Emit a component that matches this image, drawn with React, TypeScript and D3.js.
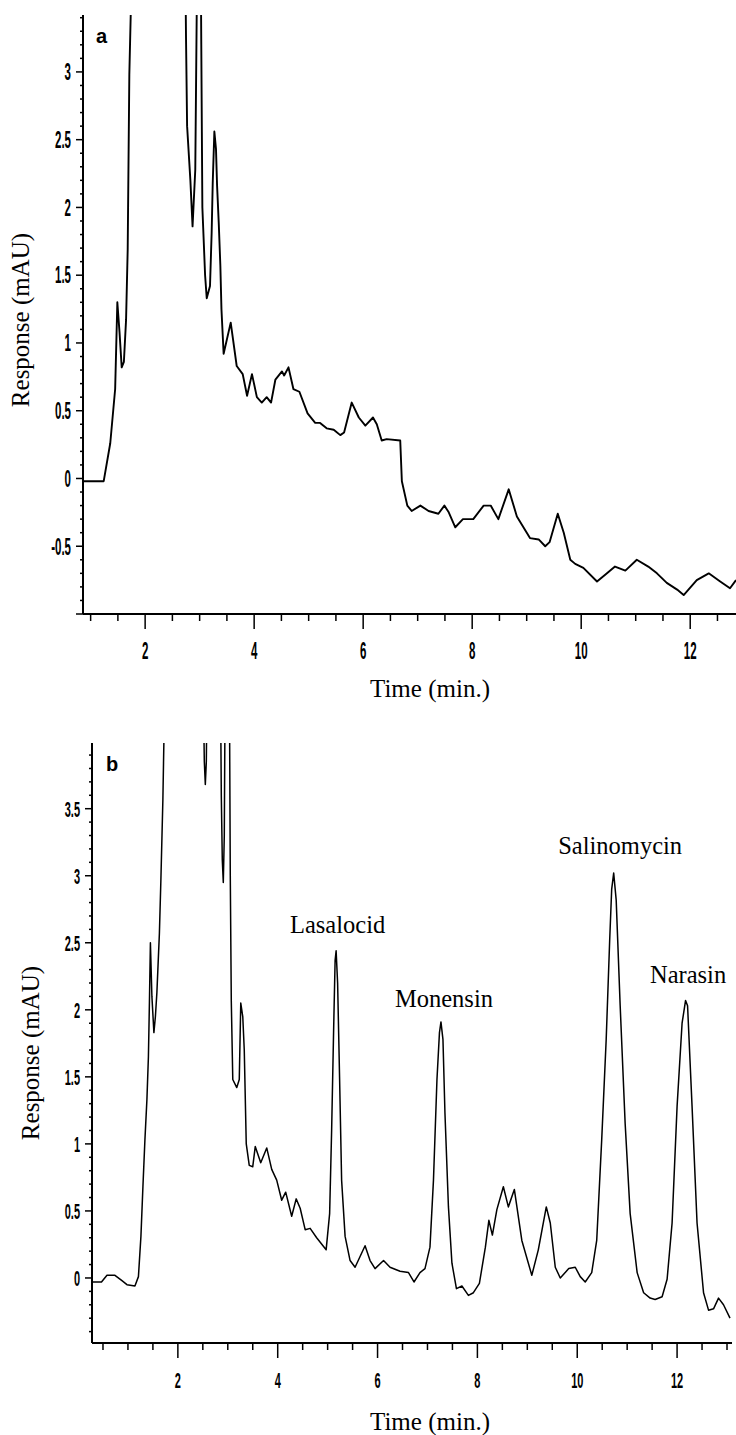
import React from "react";
import * as d3 from "d3";

// chromatogram a (time in min, response in mAU); values above the axis top are off-scale
const chromA: [number, number][] = [
  [0.86, -0.02], [1.24, -0.02], [1.36, 0.26], [1.45, 0.66], [1.49, 1.3], [1.53, 1.08], [1.57, 0.82],
  [1.61, 0.86], [1.65, 1.17], [1.68, 1.69], [1.71, 2.98], [1.74, 3.5], [1.78, 4.5], [2.72, 4.5],
  [2.75, 3.25], [2.77, 2.6], [2.83, 2.2], [2.87, 1.86], [2.92, 2.28], [2.95, 3.6], [2.98, 4.5],
  [3.01, 4.5], [3.03, 3.2], [3.05, 2.0], [3.1, 1.5], [3.13, 1.33], [3.19, 1.42], [3.22, 1.81],
  [3.24, 2.18], [3.27, 2.56], [3.3, 2.43], [3.32, 2.16], [3.35, 1.89], [3.38, 1.57], [3.4, 1.25],
  [3.44, 0.92], [3.57, 1.15], [3.68, 0.83], [3.79, 0.77], [3.87, 0.61], [3.96, 0.77], [4.05, 0.6],
  [4.14, 0.56], [4.23, 0.6], [4.31, 0.56], [4.39, 0.73], [4.51, 0.79], [4.55, 0.76], [4.63, 0.82],
  [4.72, 0.66], [4.83, 0.64], [4.98, 0.48], [5.12, 0.41], [5.21, 0.41], [5.33, 0.37], [5.46, 0.36],
  [5.58, 0.32], [5.65, 0.34], [5.79, 0.56], [5.92, 0.45], [6.04, 0.39], [6.18, 0.45], [6.25, 0.4],
  [6.34, 0.28], [6.43, 0.29], [6.68, 0.28], [6.71, -0.02], [6.81, -0.2], [6.89, -0.24], [7.05, -0.2],
  [7.2, -0.24], [7.38, -0.26], [7.49, -0.2], [7.57, -0.25], [7.69, -0.36], [7.83, -0.3], [8.02, -0.3],
  [8.21, -0.2], [8.34, -0.2], [8.48, -0.3], [8.67, -0.08], [8.82, -0.28], [9.06, -0.44], [9.22, -0.45],
  [9.34, -0.5], [9.42, -0.47], [9.57, -0.26], [9.68, -0.4], [9.8, -0.6], [9.89, -0.63], [10.04, -0.66],
  [10.29, -0.76], [10.44, -0.71], [10.62, -0.65], [10.81, -0.68], [11.02, -0.6], [11.23, -0.65],
  [11.39, -0.7], [11.57, -0.77], [11.76, -0.82], [11.88, -0.86], [12.12, -0.75], [12.34, -0.7],
  [12.55, -0.76], [12.73, -0.81], [12.84, -0.75],
];

// chromatogram b
const chromB: [number, number][] = [
  [0.28, -0.03], [0.47, -0.03], [0.58, 0.02], [0.74, 0.02], [0.88, -0.02], [0.98, -0.05], [1.14, -0.06],
  [1.21, 0.01], [1.26, 0.31], [1.3, 0.68], [1.34, 1.03], [1.38, 1.33], [1.41, 1.65], [1.43, 2.05],
  [1.45, 2.5], [1.48, 2.1], [1.52, 1.83], [1.55, 1.95], [1.58, 2.13], [1.63, 2.57], [1.66, 2.97],
  [1.7, 3.57], [1.72, 4.0], [1.76, 4.6], [2.5, 4.6], [2.53, 3.85], [2.55, 3.68], [2.57, 3.85],
  [2.59, 4.6], [2.85, 4.6], [2.87, 3.6], [2.89, 3.12], [2.91, 2.95], [2.93, 3.3], [2.95, 4.6],
  [3.03, 4.6], [3.05, 3.0], [3.07, 2.07], [3.1, 1.48], [3.18, 1.42], [3.23, 1.48], [3.26, 2.05],
  [3.3, 1.95], [3.33, 1.7], [3.37, 1.0], [3.43, 0.84], [3.5, 0.83], [3.55, 0.98], [3.66, 0.86],
  [3.78, 0.97], [3.88, 0.81], [3.98, 0.73], [4.08, 0.58], [4.16, 0.64], [4.28, 0.46], [4.37, 0.59],
  [4.45, 0.52], [4.55, 0.36], [4.65, 0.37], [4.78, 0.3], [4.97, 0.21], [5.04, 0.48], [5.08, 1.1],
  [5.12, 1.85], [5.15, 2.37], [5.17, 2.44], [5.2, 2.2], [5.24, 1.48], [5.28, 0.73], [5.35, 0.31],
  [5.45, 0.13], [5.55, 0.08], [5.65, 0.16], [5.75, 0.24], [5.85, 0.13], [5.95, 0.07], [6.12, 0.13],
  [6.25, 0.08], [6.45, 0.05], [6.62, 0.04], [6.73, -0.03], [6.85, 0.04], [6.95, 0.07], [7.05, 0.23],
  [7.12, 0.73], [7.19, 1.48], [7.24, 1.83], [7.27, 1.91], [7.31, 1.78], [7.35, 1.23], [7.42, 0.53],
  [7.49, 0.11], [7.58, -0.08], [7.69, -0.06], [7.82, -0.13], [7.92, -0.11], [8.04, -0.04], [8.16, 0.23],
  [8.23, 0.43], [8.3, 0.32], [8.39, 0.51], [8.52, 0.68], [8.62, 0.53], [8.74, 0.66], [8.89, 0.28],
  [9.09, 0.02], [9.22, 0.21], [9.38, 0.53], [9.46, 0.41], [9.56, 0.08], [9.66, 0.0], [9.83, 0.07],
  [9.96, 0.08], [10.06, 0.01], [10.16, -0.03], [10.29, 0.04], [10.39, 0.28], [10.49, 1.03], [10.58, 1.78],
  [10.65, 2.52], [10.69, 2.9], [10.73, 3.02], [10.78, 2.82], [10.86, 2.03], [10.96, 1.15], [11.06, 0.48],
  [11.2, 0.04], [11.33, -0.11], [11.46, -0.15], [11.56, -0.16], [11.7, -0.14], [11.8, -0.01], [11.9, 0.41],
  [12.0, 1.28], [12.1, 1.9], [12.17, 2.07], [12.21, 2.03], [12.3, 1.28], [12.4, 0.41], [12.53, -0.11],
  [12.63, -0.24], [12.73, -0.23], [12.83, -0.15], [12.93, -0.2], [13.06, -0.3],
];

const xLabels = [2, 4, 6, 8, 10, 12];
const yLabelsA = [-0.5, 0, 0.5, 1, 1.5, 2, 2.5, 3];
const yLabelsB = [0, 0.5, 1, 1.5, 2, 2.5, 3, 3.5];

const peakNames = ["Lasalocid", "Monensin", "Salinomycin", "Narasin"];
const peakTimes = [5.2, 7.33, 10.86, 12.22];
const peakLabelY = [2.57, 2.02, 3.16, 2.2];

const numFont = "'Liberation Sans', Arial, sans-serif";
const serif = "'Liberation Serif', 'Times New Roman', serif";

type PanelProps = {
  id: string;
  data: [number, number][];
  xDomain: [number, number];
  xRange: [number, number];
  yDomain: [number, number];
  yRange: [number, number];
  yLabels: number[];
  letter: string;
  letterX: number;
  titleX: number;
  titleY: number;
  xTitleY: number;
  numSize: number;
  lineWidth: number;
  peaks?: boolean;
};

const Panel = (p: PanelProps) => {
  const x = d3.scaleLinear().domain(p.xDomain).range(p.xRange);
  const y = d3.scaleLinear().domain(p.yDomain).range(p.yRange);
  const line = d3
    .line<[number, number]>()
    .x(d => x(d[0]))
    .y(d => y(d[1]));

  const x0 = p.xRange[0];
  const y0 = p.yRange[0];
  const top = p.yRange[1];

  const xMinor = d3.range(Math.ceil(p.xDomain[0] * 2) / 2, p.xDomain[1] + 0.001, 0.5);
  const yMinor = d3.range(Math.ceil(p.yDomain[0] * 10 - 0.001) / 10, p.yDomain[1] + 0.001, 0.1);

  return (
    <g>
      <defs>
        <clipPath id={p.id}>
          <rect x={x0} y={top} width={p.xRange[1] - x0} height={y0 - top} />
        </clipPath>
      </defs>
      <path
        d={line(p.data) || ""}
        fill="none"
        stroke="#000"
        strokeWidth={p.lineWidth}
        strokeLinejoin="round"
        clipPath={`url(#${p.id})`}
      />
      {/* axes */}
      <line x1={x0} x2={p.xRange[1]} y1={y0} y2={y0} stroke="#000" strokeWidth={2} />
      <line x1={x0} x2={x0} y1={y0} y2={top} stroke="#000" strokeWidth={2} />
      {xMinor.map(t => {
        const major = Math.abs(t % 2) < 0.01 && t > 1;
        return (
          <line key={"xt" + t} x1={x(t)} x2={x(t)} y1={y0} y2={y0 + (major ? 15 : 7)} stroke="#000" strokeWidth={1.5} />
        );
      })}
      {yMinor.map(v => {
        const major = Math.abs(Math.round(v * 10) % 5) === 0;
        return (
          <line key={"yt" + v} x1={x0} x2={x0 - (major ? 7 : 3)} y1={y(v)} y2={y(v)} stroke="#000" strokeWidth={1.5} />
        );
      })}
      {xLabels.map(t => (
        <text
          key={"xl" + t}
          transform={`translate(${x(t)},${y0 + 45}) scale(0.5,1)`}
          textAnchor="middle"
          fontFamily={numFont}
          fontWeight="bold"
          fontSize={p.numSize}
        >
          {t}
        </text>
      ))}
      {p.yLabels.map(v => (
        <text
          key={"yl" + v}
          transform={`translate(${x0 - 12},${y(v) + p.numSize * 0.36}) scale(0.5,1)`}
          textAnchor="end"
          fontFamily={numFont}
          fontWeight="bold"
          fontSize={p.numSize}
        >
          {v}
        </text>
      ))}
      <text x={p.letterX} y={top + 28} fontFamily={numFont} fontWeight="bold" fontSize={20}>
        {p.letter}
      </text>
      <text
        transform={`translate(${p.titleX},${p.titleY}) rotate(-90)`}
        textAnchor="middle"
        fontFamily={serif}
        fontSize={25}
      >
        Response (mAU)
      </text>
      <text x={430} y={p.xTitleY} textAnchor="middle" fontFamily={serif} fontSize={25}>
        Time (min.)
      </text>
      {p.peaks &&
        peakNames.map((n, i) => (
          <text key={n} x={x(peakTimes[i])} y={y(peakLabelY[i])} textAnchor="middle" fontFamily={serif} fontSize={24.5}>
            {n}
          </text>
        ))}
    </g>
  );
};

export default function App() {
  return (
    <svg
      width={736}
      height={1435}
      style={{ position: "absolute", left: 0, top: 0, background: "#fff" }}
    >
      <rect width={736} height={1435} fill="#fff" />
      <Panel
        id="clipA"
        data={chromA}
        xDomain={[0.86, 12.84]}
        xRange={[83, 736]}
        yDomain={[-1.0, 3.42]}
        yRange={[614, 15]}
        yLabels={yLabelsA}
        letter="a"
        letterX={96}
        titleX={29}
        titleY={320}
        xTitleY={697}
        numSize={23}
        lineWidth={1.9}
      />
      <Panel
        id="clipB"
        data={chromB}
        xDomain={[0.28, 13.1]}
        xRange={[92, 732]}
        yDomain={[-0.485, 3.99]}
        yRange={[1343, 743]}
        yLabels={yLabelsB}
        letter="b"
        letterX={106}
        titleX={39}
        titleY={1053}
        xTitleY={1430}
        numSize={22}
        lineWidth={1.5}
        peaks
      />
    </svg>
  );
}
